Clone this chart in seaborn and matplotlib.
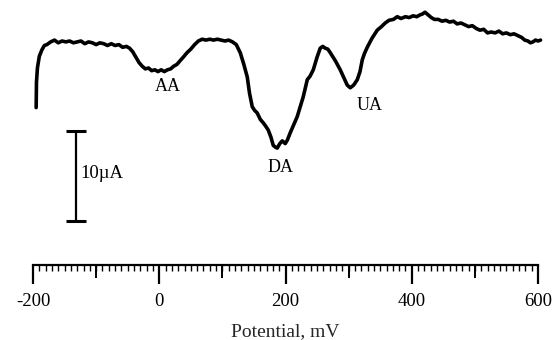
import numpy as np
import pandas as pd
import matplotlib
matplotlib.use("Agg")
import matplotlib.pyplot as plt
import seaborn as sns
from matplotlib.ticker import MultipleLocator, FixedLocator

# Potential (mV) and current (uA, relative)
potential_mV = [-195, -194.5, -193, -190, -186, -182, -178, -172, -166, -160, -154, -148, -142,
                -136, -130, -124, -118, -112, -106, -100, -94, -88, -82, -76, -70, -64, -58,
                -52, -47, -42, -37, -32, -27, -22, -17, -12, -7, -2, 3, 8, 13, 18, 23, 28,
                33, 38, 44, 50, 56, 62, 68, 74, 80, 86, 92, 98, 104, 110, 116, 122, 128.3,
                134, 139.4, 143, 147.3, 151, 155.2, 160, 164.8, 169, 172.7, 177, 180.6,
                184, 186.9, 191, 194.9, 199.6, 203, 207.5, 213, 218.6, 223, 228.1, 234.5,
                239, 244.0, 250, 255.0, 259, 263.0, 267, 270.9, 279, 286.7, 292, 297.8,
                302.6, 308, 313.7, 318, 321.6, 325, 329.5, 337, 345.3, 352, 358, 364, 371,
                377, 383, 390, 396, 402, 408, 413, 417, 421, 426, 431, 436, 442, 448, 454,
                460, 466, 472, 478, 484, 490, 496, 502, 508, 514, 520, 526, 532, 538, 544,
                550, 556, 562, 568, 574, 579, 584, 588, 592, 596, 600, 604]
current_uA = [12.6, 15.4, 17.0, 18.3, 19.0, 19.5, 19.6, 19.9, 20.1, 19.8, 20.0, 19.9, 20.0,
              19.8, 19.9, 20.0, 19.7, 19.9, 19.8, 19.6, 19.8, 19.7, 19.5, 19.7, 19.5, 19.6,
              19.3, 19.4, 19.2, 18.8, 18.2, 17.6, 17.2, 16.9, 17.0, 16.7, 16.8, 16.6, 16.8,
              16.6, 16.8, 16.9, 17.2, 17.4, 17.8, 18.2, 18.7, 19.1, 19.6, 20.0, 20.2, 20.1,
              20.2, 20.1, 20.2, 20.1, 20.0, 20.1, 19.9, 19.6, 18.7, 17.4, 16.0, 14.2, 12.7,
              12.3, 12.0, 11.3, 10.9, 10.5, 10.1, 9.3, 8.4, 8.2, 8.1, 8.6, 8.9, 8.6, 9.0,
              9.8, 10.7, 11.6, 12.6, 13.8, 15.7, 16.1, 16.8, 18.2, 19.2, 19.4, 19.2, 19.1,
              18.7, 17.8, 16.8, 16.0, 15.1, 14.8, 15.1, 15.7, 16.6, 17.9, 18.6, 19.3, 20.3,
              21.2, 21.6, 22.0, 22.3, 22.4, 22.7, 22.5, 22.7, 22.6, 22.8, 22.7, 22.9, 23.0,
              23.2, 22.9, 22.6, 22.4, 22.4, 22.2, 22.3, 22.1, 22.2, 21.9, 22.0, 21.8, 21.6,
              21.7, 21.4, 21.2, 21.3, 20.9, 21.0, 20.9, 21.1, 20.8, 20.9, 20.7, 20.8, 20.6,
              20.4, 20.1, 20.0, 19.8, 19.9, 20.1, 20.0, 20.1]

peak_labels = ["AA", "DA", "UA"]
peak_x = [14, 192, 334]
peak_y = [14.9, 5.9, 12.8]

scale_x = -131.5
scale_bottom, scale_top = 0.0, 10.0
scale_label = "10\u00b5A"

x_major = [-200, 0, 200, 400, 600]
x_mid = [-100, 100, 300, 500]

df = pd.DataFrame({"Potential": potential_mV, "Current": current_uA})

sns.set_style("white")
plt.rcParams["font.family"] = ["Liberation Serif", "DejaVu Serif"]
plt.rcParams["axes.unicode_minus"] = False

fig = plt.figure(figsize=(5.56, 3.40), dpi=100)
ax = fig.add_axes([33 / 556, 75 / 340, 505 / 556, 260 / 340])

sns.lineplot(data=df, x="Potential", y="Current", ax=ax, color="black",
             linewidth=2.6, sort=False, clip_on=False)

ax.set_xlim(-200, 600)
ax.set_ylim(-4.89, 24.0)

for lab, px, py in zip(peak_labels, peak_x, peak_y):
    ax.text(px, py, lab, ha="center", va="center", fontsize=13, color="black")

# scale bar
ax.vlines(scale_x, scale_bottom, scale_top, color="black", linewidth=1.6)
ax.hlines([scale_bottom, scale_top], scale_x - 15.5, scale_x + 15.5, color="black", linewidth=2.2)
ax.text(scale_x + 6, 5.3, scale_label, ha="left", va="center",
        fontsize=13.5, color="black")

for s in ["top", "left", "right"]:
    ax.spines[s].set_visible(False)
ax.spines["bottom"].set_linewidth(1.6)
ax.spines["bottom"].set_color("black")
ax.set_yticks([])
ax.set_ylabel("")

ax.xaxis.set_major_locator(FixedLocator(x_major))
ax.xaxis.set_minor_locator(MultipleLocator(10))
ax.tick_params(axis="x", which="both", bottom=True, top=False)
ax.tick_params(axis="x", which="major", direction="out", length=14, width=1.6,
               labelsize=13.5, pad=6.5, colors="black")
ax.tick_params(axis="x", which="minor", direction="out", length=4.3, width=1.0, colors="black")

sec = ax.secondary_xaxis("bottom")
sec.set_xticks(x_mid)
sec.set_xticklabels([])
sec.tick_params(axis="x", which="major", bottom=True, direction="out", length=9.5, width=1.4,
                colors="black")
sec.tick_params(axis="x", which="minor", length=0)
sec.spines["bottom"].set_visible(False)

ax.set_xlabel("Potential, mV", fontsize=14, labelpad=9)

fig.savefig("out.png", dpi=100, facecolor="white")
